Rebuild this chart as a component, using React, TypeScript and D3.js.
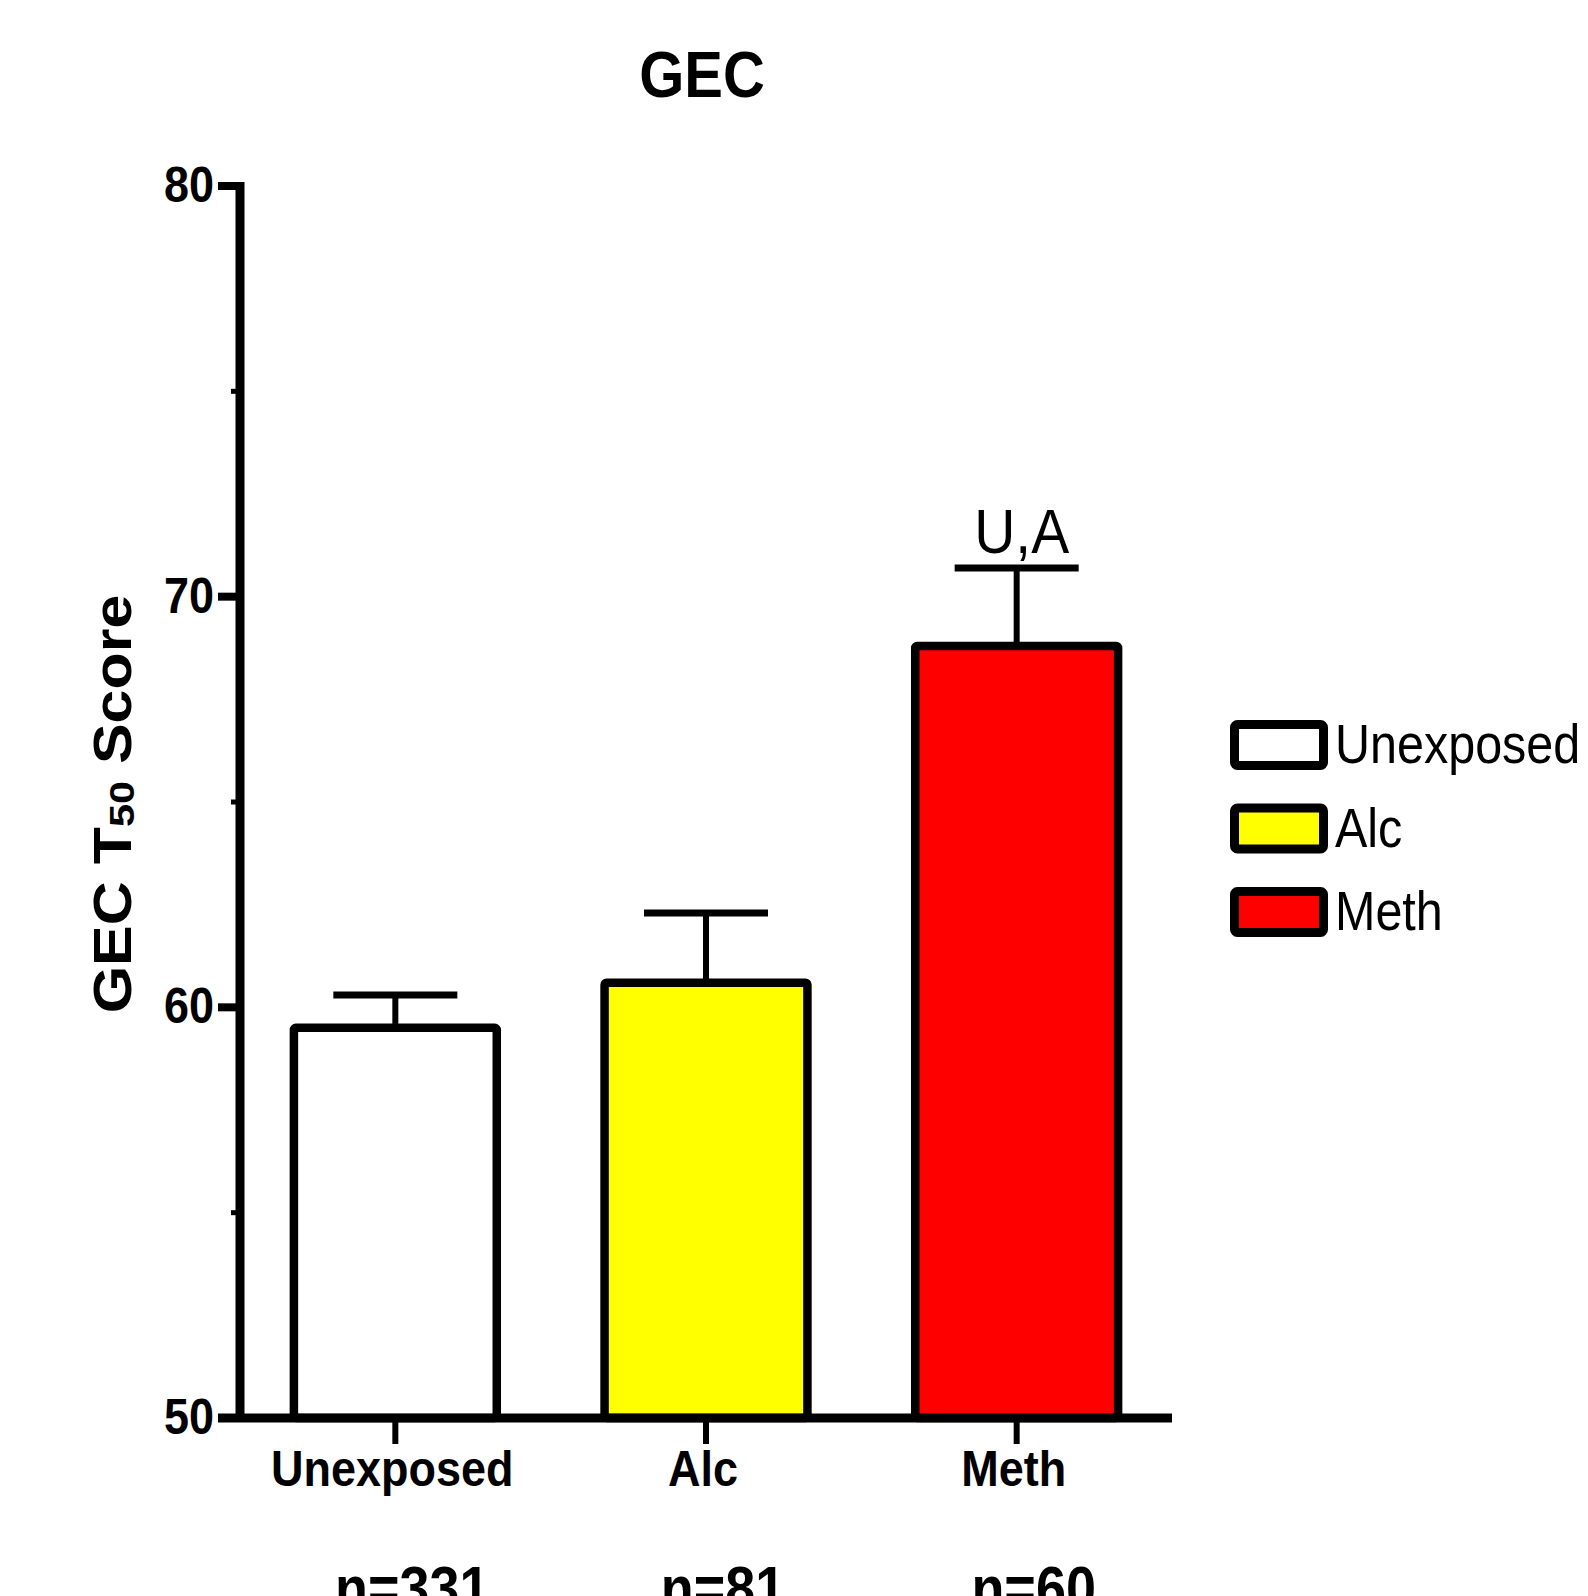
import React from "react"
import * as d3 from "d3"

// Data
const categories = ["Unexposed", "Alc", "Meth"]
const means = [59.5, 60.6, 68.8]
const errUpper = [60.3, 62.3, 70.7]
const fills = ["#ffffff", "#ffff00", "#ff0000"]
const nLabels = ["n=331", "n=81", "n=60"]
const sigLabels = ["", "", "U,A"]
const majorTicks = [50, 60, 70, 80]
const minorTicks = [55, 65, 75]

const font = "'Liberation Sans', Arial, sans-serif"

export default function App() {
  // Dimensions
  const totalW = 1588
  const totalH = 1596
  const axisLeft = 240
  const axisRight = 1172
  const axisTop = 186
  const axisBottom = 1418

  // Scales
  const xScale = d3
    .scaleBand()
    .domain(categories)
    .range([axisLeft, axisRight])
    .paddingInner(0.347)
    .paddingOuter(0.1735)
  const yScale = d3.scaleLinear().domain([50, 80]).range([axisBottom, axisTop])
  const bw = xScale.bandwidth()
  const cx = (c: string) => (xScale(c) as number) + bw / 2

  return (
    <svg
      width={totalW}
      height={totalH}
      style={{ position: "absolute", left: 0, top: 0, background: "#fff" }}
      fontFamily={font}
    >
      {/* title */}
      <text
        transform={`translate(702, 97) scale(1, 1.12)`}
        textAnchor="middle"
        fontSize={58}
        fontWeight="bold"
      >
        GEC
      </text>

      {/* y label */}
      <text
        transform={`translate(131, 804) rotate(-90) scale(1.15, 1)`}
        textAnchor="middle"
        fontSize={53}
        fontWeight="bold"
      >
        GEC T
        <tspan fontSize={36} dy={3}>50</tspan>
        <tspan dy={-3}> Score</tspan>
      </text>

      {/* error bars */}
      {categories.map((c, i) => (
        <g key={`${c}-err`} stroke="#000">
          <line
            x1={cx(c)}
            x2={cx(c)}
            y1={yScale(means[i])}
            y2={yScale(errUpper[i])}
            strokeWidth={6}
          />
          <line
            x1={cx(c) - 62}
            x2={cx(c) + 62}
            y1={yScale(errUpper[i])}
            y2={yScale(errUpper[i])}
            strokeWidth={7}
          />
        </g>
      ))}

      {/* bars */}
      {categories.map((c, i) => (
        <rect
          key={`${c}-bar`}
          x={xScale(c)}
          y={yScale(means[i])}
          width={bw}
          height={yScale(50) - yScale(means[i])}
          fill={fills[i]}
          stroke="#000"
          strokeWidth={8.5}
          rx={2}
        />
      ))}

      {/* significance */}
      {categories.map((c, i) =>
        sigLabels[i] ? (
          <text
            key={`${c}-sig`}
            transform={`translate(${cx(c) + 5}, ${yScale(errUpper[i]) - 15}) scale(1, 1.12)`}
            textAnchor="middle"
            fontSize={57}
          >
            {sigLabels[i]}
          </text>
        ) : null
      )}

      {/* y axis */}
      <line x1={axisLeft} x2={axisLeft} y1={axisTop - 4} y2={axisBottom} stroke="#000" strokeWidth={9} />
      {majorTicks.map((t) => (
        <g key={`maj-${t}`}>
          <line x1={218} x2={axisLeft} y1={yScale(t)} y2={yScale(t)} stroke="#000" strokeWidth={8} />
          <text
            transform={`translate(214, ${yScale(t) + 16}) scale(1, 1.12)`}
            textAnchor="end"
            fontSize={45}
            fontWeight="bold"
          >
            {t}
          </text>
        </g>
      ))}
      {minorTicks.map((t) => (
        <line key={`min-${t}`} x1={231} x2={axisLeft} y1={yScale(t)} y2={yScale(t)} stroke="#000" strokeWidth={5} />
      ))}

      {/* x axis */}
      <line x1={218} x2={axisRight} y1={axisBottom} y2={axisBottom} stroke="#000" strokeWidth={9} />
      {categories.map((c, i) => (
        <g key={`${c}-xt`}>
          <line x1={cx(c)} x2={cx(c)} y1={axisBottom} y2={axisBottom + 26} stroke="#000" strokeWidth={6} />
          <text
            transform={`translate(${cx(c) - 3}, 1486) scale(1, 1.12)`}
            textAnchor="middle"
            fontSize={45}
            fontWeight="bold"
          >
            {c}
          </text>
          <text
            transform={`translate(${cx(c) + 17}, 1609) scale(1, 1.12)`}
            textAnchor="middle"
            fontSize={54}
            fontWeight="bold"
          >
            {nLabels[i]}
          </text>
        </g>
      ))}

      {/* legend */}
      {categories.map((c, i) => (
        <g key={`${c}-leg`} transform={`translate(0, ${i * 83.5})`}>
          <rect x={1234.5} y={724.5} width={89} height={41} fill={fills[i]} stroke="#000" strokeWidth={9} rx={3} />
          <text transform={`translate(1335, 763) scale(1, 1.15)`} fontSize={48.5}>
            {c}
          </text>
        </g>
      ))}
    </svg>
  )
}
